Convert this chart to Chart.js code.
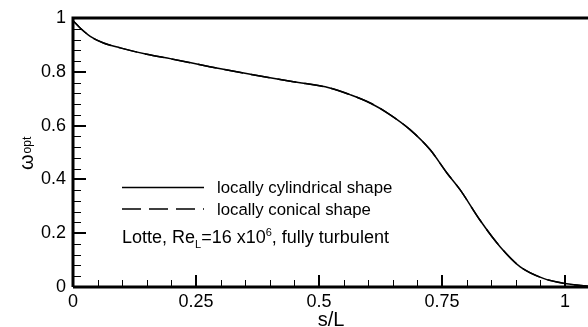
<!DOCTYPE html>
<html>
<head>
<meta charset="utf-8">
<script src="https://cdn.jsdelivr.net/npm/chart.js@4/dist/chart.umd.min.js"></script>
<style>
  html, body { margin: 0; padding: 0; background: #fff; overflow: hidden; }
  #wrap { width: 600px; height: 327px; }
</style>
</head>
<body>
<div id="wrap"><canvas id="chart" width="600" height="327"></canvas></div>
<script>
// s/L positions
const sValues = [0, 0.014, 0.035, 0.062, 0.096, 0.15, 0.2, 0.278, 0.38, 0.448, 0.522, 0.563,
  0.604, 0.644, 0.685, 0.726, 0.76, 0.787, 0.827, 0.868, 0.909, 0.956, 0.997, 1.05];
// omega_opt, locally cylindrical shape
const omegaCylindrical = [0.99, 0.964, 0.932, 0.907, 0.889, 0.865, 0.848, 0.819, 0.784, 0.763, 0.74, 0.715,
  0.684, 0.641, 0.585, 0.51, 0.424, 0.361, 0.249, 0.15, 0.075, 0.032, 0.014, 0.002];
// locally conical shape lies on top of the cylindrical one
const omegaConical = omegaCylindrical.slice();

const seriesNames = ['locally cylindrical shape', 'locally conical shape'];
const xTickVals = [0, 0.25, 0.5, 0.75, 1];
const yTickVals = [0, 0.2, 0.4, 0.6, 0.8, 1];

const FONT = "'Liberation Sans', Arial, Helvetica, sans-serif";

const toPoints = (ys) => sValues.map((s, i) => ({ x: s, y: ys[i] }));
const fmt = (v) => String(+Number(v).toFixed(2));

// frame, inward ticks, titles and the legend box (Tecplot style)
const decorations = {
  id: 'decorations',
  afterDraw(chart) {
    const ctx = chart.ctx;
    const area = chart.chartArea;
    const xs = chart.scales.x;
    const ys = chart.scales.y;
    ctx.save();
    ctx.strokeStyle = '#000';
    ctx.fillStyle = '#000';
    ctx.setLineDash([]);
    ctx.lineDashOffset = 0;

    // minor ticks
    ctx.lineWidth = 1;
    ctx.beginPath();
    for (let v = 0.05; v < 1.05; v += 0.05) {
      if (Math.abs(v / 0.25 - Math.round(v / 0.25)) < 1e-6) continue;
      const px = Math.round(xs.getPixelForValue(v)) + 0.5;
      ctx.moveTo(px, area.bottom);
      ctx.lineTo(px, area.bottom - 7);
    }
    for (let v = 0.04; v < 1; v += 0.04) {
      if (Math.abs(v / 0.2 - Math.round(v / 0.2)) < 1e-6) continue;
      const py = Math.round(ys.getPixelForValue(v)) + 0.5;
      ctx.moveTo(area.left, py);
      ctx.lineTo(area.left + 8, py);
    }
    ctx.stroke();

    // major ticks
    ctx.lineWidth = 2;
    ctx.beginPath();
    xTickVals.forEach((v) => {
      const px = Math.round(xs.getPixelForValue(v));
      ctx.moveTo(px, area.bottom);
      ctx.lineTo(px, area.bottom - 12);
    });
    yTickVals.forEach((v) => {
      const py = Math.round(ys.getPixelForValue(v));
      ctx.moveTo(area.left, py);
      ctx.lineTo(area.left + 13, py);
    });
    ctx.stroke();

    // frame lines
    ctx.lineWidth = 3;
    ctx.beginPath();
    ctx.moveTo(area.left, area.bottom);
    ctx.lineTo(area.left, area.top);
    ctx.lineTo(chart.width, area.top);
    ctx.moveTo(area.left, area.bottom);
    ctx.lineTo(chart.width, area.bottom);
    ctx.stroke();

    // y title: omega_opt
    ctx.save();
    ctx.translate(33, 170);
    ctx.rotate(-Math.PI / 2);
    ctx.textBaseline = 'alphabetic';
    ctx.textAlign = 'left';
    ctx.font = '20px ' + FONT;
    ctx.fillText('ω', 0, 0);
    const wW = ctx.measureText('ω').width;
    ctx.font = '12px ' + FONT;
    ctx.fillText('opt', wW + 1, -2);
    ctx.restore();

    // x title
    ctx.font = '20px ' + FONT;
    ctx.textAlign = 'center';
    ctx.textBaseline = 'alphabetic';
    ctx.fillText('s/L', xs.getPixelForValue(0.5) + 12, 326);

    // legend
    const datasets = chart.data.datasets;
    ctx.textAlign = 'left';
    datasets.forEach((ds, i) => {
      const ly = 187.5 + i * 21.5;
      ctx.lineWidth = 1.3;
      ctx.setLineDash(ds.borderDash || []);
      ctx.lineDashOffset = 0;
      ctx.beginPath();
      ctx.moveTo(122, ly);
      ctx.lineTo(204, ly);
      ctx.stroke();
      ctx.setLineDash([]);
      ctx.font = '16.8px ' + FONT;
      ctx.fillText(ds.label, 217, ly + 5.5);
    });

    // annotation: Lotte, Re_L=16 x10^6, fully turbulent
    let x = 122;
    const base = 242.5;
    const part = (txt, size, dy) => {
      ctx.font = size + 'px ' + FONT;
      ctx.fillText(txt, x, base + dy);
      x += ctx.measureText(txt).width;
    };
    part('Lotte, Re', 18, 0);
    part('L', 11, 5);
    part('=16 x10', 18, 0);
    part('6', 11, -7);
    part(', fully turbulent', 18, 0);

    ctx.restore();
  }
};

new Chart(document.getElementById('chart'), {
  type: 'line',
  data: {
    datasets: [
      {
        label: seriesNames[0],
        data: toPoints(omegaCylindrical),
        borderColor: '#000',
        borderWidth: 1.5,
        pointRadius: 0,
        cubicInterpolationMode: 'monotone',
      },
      {
        label: seriesNames[1],
        data: toPoints(omegaConical),
        borderColor: '#000',
        borderWidth: 1.5,
        borderDash: [19, 8],
        pointRadius: 0,
        cubicInterpolationMode: 'monotone',
      },
    ],
  },
  options: {
    responsive: false,
    animation: false,
    devicePixelRatio: 1,
    layout: { padding: { top: 18, right: 10.4, left: 0, bottom: 0 } },
    plugins: {
      legend: { display: false },
      tooltip: { enabled: false },
    },
    scales: {
      x: {
        type: 'linear',
        min: 0,
        max: 1.05,
        afterBuildTicks: (scale) => { scale.ticks = xTickVals.map((v) => ({ value: v })); },
        afterFit: (scale) => { scale.height = 40; },
        grid: { display: false, drawTicks: false },
        border: { display: false },
        ticks: { color: '#000', font: { family: FONT, size: 18 }, padding: 4, maxRotation: 0, callback: fmt },
      },
      y: {
        type: 'linear',
        min: 0,
        max: 1,
        afterBuildTicks: (scale) => { scale.ticks = yTickVals.map((v) => ({ value: v })); },
        afterFit: (scale) => { scale.width = 73; },
        grid: { display: false, drawTicks: false },
        border: { display: false },
        ticks: { color: '#000', font: { family: FONT, size: 18 }, padding: 7, callback: fmt },
      },
    },
  },
  plugins: [decorations],
});
</script>
</body>
</html>
